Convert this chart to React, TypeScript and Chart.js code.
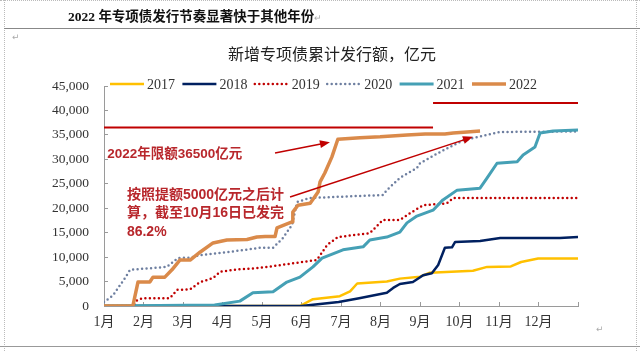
import React, { useEffect, useRef } from 'react';
import { Chart, registerables } from 'chart.js';

Chart.register(...registerables);

// ---------- data ----------
const seriesNames = ['2017', '2018', '2019', '2020', '2021', '2022'];
const monthLabels = ['1月', '2月', '3月', '4月', '5月', '6月', '7月', '8月', '9月', '10月', '11月', '12月'];

// x = months elapsed since 1 Jan, value = 亿元 (cumulative)
const x2017 = [0, 4.96, 5.29, 5.97, 6.23, 6.41, 7.16, 7.49, 8.0, 8.25, 9.34, 9.7, 10.3, 10.56, 10.99, 12];
const v2017 = [0, 0, 1400, 2000, 3000, 4600, 5000, 5600, 6000, 6800, 7200, 8000, 8100, 9000, 9700, 9700];

const x2018 = [0, 5.0, 5.94, 6.46, 7.16, 7.32, 7.49, 7.82, 8.08, 8.3, 8.46, 8.63, 8.81, 8.89, 9.52, 10.03, 11.54, 12];
const v2018 = [0, 0, 800, 1600, 2700, 3700, 4500, 4900, 6300, 6700, 8400, 11900, 12000, 13100, 13300, 13900, 13900, 14100];

const x2019 = [0, 0.75, 0.84, 0.99, 1.67, 1.85, 2.18, 2.43, 2.76, 2.94, 3.27, 3.95, 5.39, 5.65, 5.92, 6.73, 7.06, 7.49, 7.75, 8.08, 8.68, 8.84, 12];
const v2019 = [0, 0, 1200, 1600, 1600, 3300, 3400, 4900, 5700, 7000, 7400, 7800, 9400, 12500, 14100, 14900, 17600, 17600, 19000, 20600, 21000, 22100, 22100];

const x2020 = [0, 0.23, 0.53, 0.66, 1.59, 1.87, 2.18, 2.43, 3.11, 3.95, 4.28, 4.53, 4.76, 4.89, 5.22, 7.06, 7.16, 7.49, 7.92, 8.0, 8.51, 9.09, 9.7, 10.03, 12];
const v2020 = [800, 2200, 5700, 7400, 8000, 9800, 9900, 10400, 11000, 11900, 11900, 13900, 16600, 21300, 22100, 22700, 23700, 26200, 28200, 29200, 31500, 33900, 35000, 35600, 35700];

const x2021 = [0, 2.8, 3.44, 3.77, 4.28, 4.63, 4.96, 5.29, 5.52, 6.05, 6.56, 6.73, 7.16, 7.49, 7.67, 7.92, 8.33, 8.58, 8.94, 9.52, 9.7, 9.95, 10.46, 10.61, 10.91, 11.04, 11.37, 12];
const v2021 = [0, 200, 1000, 2700, 2900, 4900, 5900, 8000, 9800, 11500, 12100, 13500, 14100, 15100, 17000, 18400, 19600, 21700, 23700, 24100, 26200, 29200, 29500, 30900, 32500, 35400, 35800, 36000];

const x2022 = [0, 0.73, 0.86, 1.16, 1.24, 1.54, 1.72, 1.92, 2.18, 2.43, 2.76, 3.11, 3.62, 3.87, 4.08, 4.33, 4.38, 4.76, 4.78, 4.91, 5.22, 5.42, 5.47, 5.59, 5.77, 5.92, 6.48, 6.99, 7.67, 8.13, 8.63, 8.84, 9.19, 9.52];
const v2022 = [0, 0, 4900, 4900, 5900, 5900, 7400, 9400, 9400, 11000, 12900, 13500, 13600, 14100, 14200, 14200, 16000, 17200, 19200, 20600, 21000, 23300, 25400, 27200, 30500, 34100, 34400, 34600, 35000, 35200, 35200, 35400, 35600, 35800];

const seriesX = [x2017, x2018, x2019, x2020, x2021, x2022];
const seriesV = [v2017, v2018, v2019, v2020, v2021, v2022];

// quota lines (36500 original quota, 41500 after +5000)
const limitValues = [36500, 41500];
const limitFrom = [0, 8.33];
const limitTo = [8.33, 12];

// arrows: [fromMonth, fromValue, toMonth, toValue]
const arrowFromX = [4.33, 4.71];
const arrowFromV = [31300, 22300];
const arrowToX = [5.72, 9.34];
const arrowToV = [33500, 34600];

const noteLimit = '2022年限额36500亿元';
const noteLimitAt = [0.08, 31100];
const noteProgress = ['按照提额5000亿元之后计', '算，截至10月16日已发完', '86.2%'];
const noteProgressAt = [0.58, 22700];

const yMax = 45000;
const yStep = 5000;

// ---------- styles ----------
const colors = ['#FFC000', '#002060', '#C00000', '#6E7FA0', '#45A0B5', '#DA8A4A'];
const widths = [2.5, 2.5, 2.5, 2.5, 3, 3.5];
const dotted = [false, false, true, true, false, false];
const RED = '#C00000';
const NOTE = '#B8272C';
const CJK = "'Noto Sans CJK SC'";

function drawArrow(ctx: CanvasRenderingContext2D, x1: number, y1: number, x2: number, y2: number) {
  const ang = Math.atan2(y2 - y1, x2 - x1);
  const len = 10;
  const half = 4;
  ctx.strokeStyle = RED;
  ctx.fillStyle = RED;
  ctx.lineWidth = 1.5;
  ctx.setLineDash([]);
  ctx.beginPath();
  ctx.moveTo(x1, y1);
  ctx.lineTo(x2 - Math.cos(ang) * len * 0.8, y2 - Math.sin(ang) * len * 0.8);
  ctx.stroke();
  ctx.beginPath();
  ctx.moveTo(x2, y2);
  ctx.lineTo(x2 - Math.cos(ang) * len - Math.sin(ang) * half, y2 - Math.sin(ang) * len + Math.cos(ang) * half);
  ctx.lineTo(x2 - Math.cos(ang) * len + Math.sin(ang) * half, y2 - Math.sin(ang) * len - Math.cos(ang) * half);
  ctx.closePath();
  ctx.fill();
}

const overlayPlugin = {
  id: 'overlay',
  afterDatasetsDraw(chart: any) {
    const ctx: CanvasRenderingContext2D = chart.ctx;
    const xs = chart.scales.x;
    const ys = chart.scales.y;
    const px = (m: number) => xs.getPixelForValue(m);
    const py = (v: number) => ys.getPixelForValue(v);
    ctx.save();
    for (let i = 0; i < arrowFromX.length; i++) {
      drawArrow(ctx, px(arrowFromX[i]), py(arrowFromV[i]), px(arrowToX[i]), py(arrowToV[i]));
    }
    ctx.fillStyle = NOTE;
    ctx.textBaseline = 'middle';
    ctx.textAlign = 'left';
    ctx.font = `bold 13.5px 'Liberation Sans', ${CJK}`;
    ctx.fillText(noteLimit, px(noteLimitAt[0]), py(noteLimitAt[1]));
    ctx.font = `bold 14px 'Liberation Sans', ${CJK}`;
    const y0 = py(noteProgressAt[1]);
    noteProgress.forEach((t, i) => {
      ctx.fillText(t, px(noteProgressAt[0]), y0 + i * 18.5);
    });

    // legend
    const ly = 84;
    let lx = 110;
    chart.data.datasets.slice(0, seriesNames.length).forEach((ds: any, i: number) => {
      ctx.strokeStyle = ds.borderColor;
      ctx.lineWidth = ds.borderWidth;
      ctx.lineCap = dotted[i] ? 'round' : 'butt';
      ctx.setLineDash(dotted[i] ? [0, 4.5] : []);
      ctx.beginPath();
      ctx.moveTo(lx, ly);
      ctx.lineTo(lx + 34, ly);
      ctx.stroke();
      ctx.setLineDash([]);
      ctx.fillStyle = '#333';
      ctx.font = "14px 'Liberation Serif'";
      ctx.textAlign = 'left';
      ctx.fillText(ds.label, lx + 37, ly + 1);
      lx += 72.4;
    });
    ctx.restore();
  },
};

export default function App() {
  const ref = useRef<HTMLCanvasElement | null>(null);

  useEffect(() => {
    if (!ref.current) return;
    const datasets: any[] = seriesNames.map((name, i) => ({
      label: name,
      data: seriesX[i].map((x, k) => ({ x, y: seriesV[i][k] })),
      borderColor: colors[i],
      backgroundColor: colors[i],
      borderWidth: widths[i],
      borderDash: dotted[i] ? [0, 4.5] : [],
      borderCapStyle: dotted[i] ? 'round' : 'butt',
      borderJoinStyle: 'round',
      pointRadius: 0,
      tension: 0,
      fill: false,
      order: seriesNames.length - 1 - i,
    }));
    limitValues.forEach((v, i) => {
      datasets.push({
        label: 'limit' + i,
        data: [
          { x: limitFrom[i], y: v },
          { x: limitTo[i], y: v },
        ],
        borderColor: RED,
        borderWidth: 2,
        pointRadius: 0,
        fill: false,
        order: 10,
      });
    });

    const chart = new Chart(ref.current, {
      type: 'line',
      data: { datasets },
      plugins: [overlayPlugin],
      options: {
        responsive: false,
        animation: false,
        layout: { padding: { left: 0, right: 62, top: 86, bottom: 0 } },
        plugins: {
          legend: { display: false },
          title: { display: false },
          tooltip: { enabled: false },
        },
        scales: {
          x: {
            type: 'linear',
            min: 0,
            max: 12,
            afterFit: (s: any) => {
              s.height = 45;
            },
            ticks: {
              stepSize: 1,
              autoSkip: false,
              maxRotation: 0,
              padding: 12,
              color: '#333',
              font: { family: `'Liberation Serif', ${CJK}`, size: 14 },
              callback: (v: any) => monthLabels[Number(v)] ?? '',
            },
            grid: { drawOnChartArea: false, drawTicks: true, tickLength: -4, color: '#9a9a9a' },
            border: { color: '#9a9a9a', width: 1 },
          },
          y: {
            min: 0,
            max: yMax,
            afterFit: (s: any) => {
              s.width = 104;
            },
            ticks: {
              stepSize: yStep,
              padding: 19,
              color: '#333',
              font: { family: "'Liberation Serif'", size: 13.5 },
              callback: (v: any) => Number(v).toLocaleString('en-US'),
            },
            grid: { drawOnChartArea: false, drawTicks: true, tickLength: -4, color: '#9a9a9a' },
            border: { color: '#9a9a9a', width: 1 },
          },
        },
      } as any,
    });
    return () => chart.destroy();
  }, []);

  const mark: React.CSSProperties = { position: 'absolute', color: '#aaa', fontSize: 9, fontFamily: "'DejaVu Sans'" };

  return (
    <div style={{ position: 'absolute', left: 0, top: 0, width: 640, height: 351, background: '#fff', overflow: 'hidden' }}>
      <canvas ref={ref} width={640} height={351} style={{ position: 'absolute', left: 0, top: 0 }} />
      <div style={{ position: 'absolute', left: 0, top: 0, width: 640, borderTop: '1px dotted #bbb' }} />
      <div style={{ position: 'absolute', left: 4, top: 0, height: 351, borderLeft: '1px dotted #bbb' }} />
      <div style={{ position: 'absolute', left: 636, top: 0, height: 351, borderLeft: '1px dotted #bbb' }} />
      <div style={{ position: 'absolute', left: 4, top: 28, width: 636, borderTop: '1px solid #888' }} />
      <div style={{ position: 'absolute', left: 0, top: 346, width: 640, borderTop: '1px solid #999' }} />
      <div
        style={{
          position: 'absolute',
          left: 68,
          top: 8,
          fontSize: 13.5,
          lineHeight: '18px',
          fontWeight: 'bold',
          fontFamily: `'Liberation Serif', ${CJK}`,
          color: '#111',
          whiteSpace: 'nowrap',
        }}
      >
        2022 年专项债发行节奏显著快于其他年份<span style={{ color: '#aaa', fontSize: 9, fontWeight: 'normal' }}>↵</span>
      </div>
      <div style={{ ...mark, left: 12, top: 32 }}>↵</div>
      <div style={{ ...mark, left: 596, top: 324 }}>↵</div>
      <div
        style={{
          position: 'absolute',
          left: 228,
          top: 45,
          fontSize: 16,
          lineHeight: '20px',
          fontFamily: `'Liberation Serif', ${CJK}`,
          color: '#222',
          whiteSpace: 'nowrap',
        }}
      >
        新增专项债累计发行额，亿元
      </div>
    </div>
  );
}
